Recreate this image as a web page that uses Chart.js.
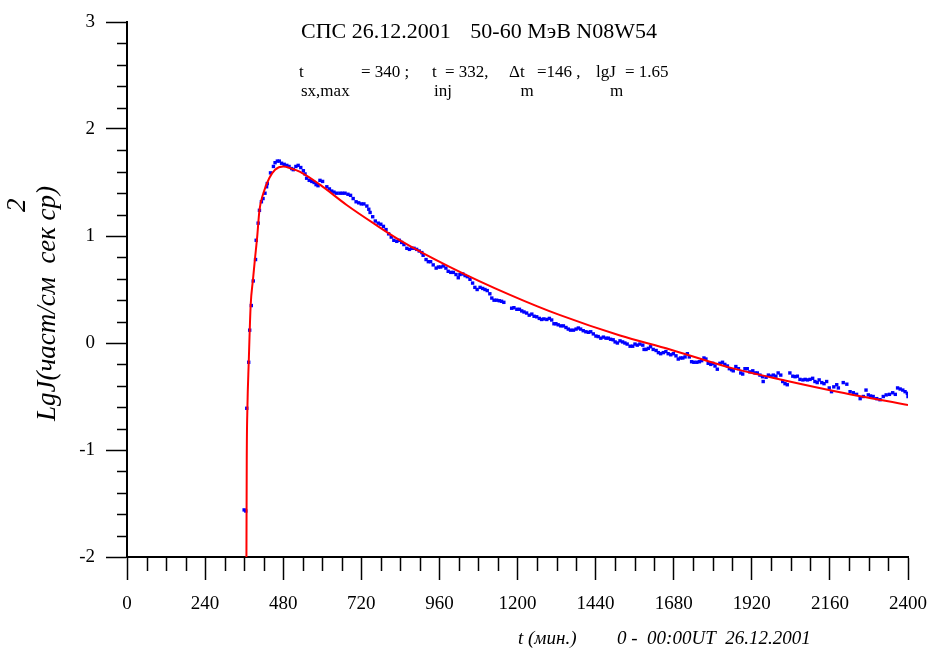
<!DOCTYPE html>
<html><head><meta charset="utf-8">
<script src="https://cdn.jsdelivr.net/npm/chart.js@4/dist/chart.umd.min.js"></script>
<style>html,body{margin:0;padding:0;background:#fff;}#wrap{width:929px;height:649px;position:relative;}</style>
</head><body><div id="wrap"><canvas id="c" width="929" height="649"></canvas></div>
<script>
// ---- data (time in minutes from 00:00UT 26.12.2001, lgJ) ----
const blueT = [360,365,368,374,377,382,388,395,397,403,407,413,418,424,429,431,441,450,455,462,468,475,483,491,498,506,511,519,526,534,542,547,552,560,568,575,581,587,593,601,614,622,629,636,644,654,662,670,679,687,695,704,712,720,728,737,743,747,755,763,772,780,788,796,804,812,820,829,837,844,851,860,868,875,882,890,898,906,910,919,926,933,941,950,957,964,972,980,987,995,1003,1011,1018,1023,1032,1039,1046,1054,1062,1069,1076,1085,1093,1100,1107,1115,1121,1128,1136,1144,1151,1158,1182,1189,1198,1206,1213,1220,1228,1236,1244,1251,1259,1267,1274,1281,1290,1298,1305,1312,1318,1325,1333,1341,1349,1356,1363,1372,1380,1387,1394,1402,1410,1418,1425,1433,1441,1448,1456,1464,1472,1479,1486,1494,1500,1507,1515,1523,1530,1537,1546,1554,1561,1568,1576,1585,1589,1595,1602,1609,1617,1626,1633,1640,1648,1656,1663,1671,1679,1687,1694,1701,1708,1715,1722,1728,1735,1742,1751,1759,1766,1773,1779,1786,1794,1800,1807,1814,1822,1830,1837,1845,1851,1858,1863,1871,1879,1886,1892,1899,1906,1914,1923,1930,1937,1945,1953,1955,1964,1971,1978,1986,1994,2001,2009,2015,2022,2029,2037,2046,2053,2060,2068,2077,2084,2091,2099,2107,2114,2121,2127,2135,2142,2150,2158,2165,2172,2181,2186,2201,2212,2222,2232,2242,2253,2263,2271,2278,2285,2293,2304,2314,2324,2333,2343,2353,2361,2368,2376,2384,2391,2398,2400];
const blueY = [-1.56,-1.57,-0.61,-0.18,0.12,0.35,0.58,0.78,0.96,1.12,1.24,1.32,1.35,1.40,1.46,1.49,1.59,1.65,1.685,1.70,1.70,1.68,1.67,1.66,1.65,1.63,1.62,1.65,1.66,1.64,1.61,1.58,1.54,1.52,1.51,1.50,1.48,1.47,1.52,1.51,1.46,1.44,1.42,1.41,1.40,1.40,1.40,1.40,1.39,1.38,1.35,1.32,1.31,1.30,1.30,1.28,1.25,1.22,1.18,1.14,1.12,1.11,1.09,1.06,1.02,0.99,0.96,0.95,0.96,0.94,0.92,0.885,0.875,0.885,0.885,0.875,0.86,0.845,0.82,0.78,0.76,0.76,0.73,0.70,0.71,0.71,0.72,0.70,0.67,0.66,0.66,0.64,0.61,0.64,0.645,0.63,0.62,0.595,0.56,0.52,0.50,0.52,0.51,0.50,0.49,0.46,0.42,0.40,0.40,0.395,0.39,0.38,0.325,0.33,0.315,0.315,0.30,0.29,0.28,0.26,0.27,0.25,0.245,0.23,0.22,0.225,0.22,0.23,0.215,0.18,0.18,0.17,0.16,0.16,0.145,0.13,0.12,0.12,0.13,0.14,0.13,0.115,0.105,0.10,0.105,0.085,0.065,0.06,0.045,0.055,0.045,0.045,0.035,0.03,0.01,0.00,0.02,0.01,0.00,-0.01,-0.03,-0.03,-0.01,-0.02,-0.01,-0.02,-0.06,-0.06,-0.05,-0.035,-0.06,-0.07,-0.09,-0.10,-0.09,-0.08,-0.10,-0.11,-0.10,-0.12,-0.15,-0.14,-0.14,-0.13,-0.10,-0.13,-0.175,-0.18,-0.18,-0.175,-0.165,-0.14,-0.15,-0.19,-0.20,-0.19,-0.215,-0.245,-0.19,-0.18,-0.20,-0.215,-0.24,-0.25,-0.26,-0.22,-0.24,-0.28,-0.29,-0.24,-0.24,-0.27,-0.26,-0.28,-0.28,-0.30,-0.315,-0.36,-0.32,-0.30,-0.31,-0.30,-0.31,-0.28,-0.30,-0.36,-0.38,-0.39,-0.28,-0.31,-0.315,-0.31,-0.34,-0.345,-0.34,-0.345,-0.34,-0.33,-0.36,-0.37,-0.345,-0.37,-0.38,-0.36,-0.42,-0.455,-0.41,-0.39,-0.42,-0.37,-0.385,-0.455,-0.465,-0.48,-0.52,-0.50,-0.44,-0.485,-0.495,-0.50,-0.52,-0.53,-0.50,-0.485,-0.48,-0.465,-0.48,-0.42,-0.43,-0.44,-0.455,-0.47,-0.50];
const redT = [367,368,370,374,380,387,393,400,407,419,437,455,480,506,532,593,675,757,839,993,1177,1331,1515,1669,1853,2022,2191,2400];
const redY = [-2.0,-1.09,-0.61,-0.19,0.35,0.59,0.78,0.99,1.24,1.40,1.54,1.62,1.65,1.63,1.60,1.48,1.29,1.12,0.96,0.71,0.45,0.26,0.07,-0.06,-0.23,-0.35,-0.46,-0.58];
const xTickLabels = [0,240,480,720,960,1200,1440,1680,1920,2160,2400];
const yTickLabels = [-2,-1,0,1,2,3];
const titleLeft = "СПС 26.12.2001";
const titleRight = "50-60 МэВ N08W54";
const yTitleMain = "LgJ(част/см  сек ср)";
const yTitleSup = "2";
const xTitleLeft = "t (мин.)";
const xTitleRight = "0 -  00:00UT  26.12.2001";
const paramParts = [
  {main:"t", sub:"sx,max"}, {main:"= 340 ;"},
  {main:"t", sub:"inj"}, {main:"= 332,"},
  {main:"Δt", sub:"m"}, {main:"=146 ,"},
  {main:"lgJ", sub:"m"}, {main:"= 1.65"}
];
const paramX = [299, 361, 432, 445, 509, 537, 596, 625];

const serif = "'Liberation Serif','Times New Roman',serif";

const decor = {
  id:'decor',
  afterDraw(chart){
    const ctx = chart.ctx, xs = chart.scales.x, ys = chart.scales.y;
    ctx.save();
    ctx.strokeStyle = '#000'; ctx.lineWidth = 1.5;
    // minor ticks
    const yb = ys.getPixelForValue(ys.min);
    for (let v = 60; v < 2400; v += 60) {
      if (v % 240 === 0) continue;
      const px = Math.round(xs.getPixelForValue(v)) + 0.5;
      ctx.beginPath(); ctx.moveTo(px, yb); ctx.lineTo(px, yb + 14); ctx.stroke();
    }
    const xl = xs.getPixelForValue(xs.min);
    for (let i = 1; i < 25; i++) {
      if (i % 5 === 0) continue;
      const v = -2 + i * 0.2;
      const py = Math.round(ys.getPixelForValue(v)) + 0.5;
      ctx.beginPath(); ctx.moveTo(xl - 10, py); ctx.lineTo(xl, py); ctx.stroke();
    }
    ctx.fillStyle = '#000';
    ctx.textBaseline = 'alphabetic';
    // title
    ctx.font = "22px " + serif;
    ctx.textAlign = 'left';
    ctx.fillText(titleLeft, 301, 38);
    ctx.textAlign = 'right';
    ctx.fillText(titleRight, 657, 38);
    ctx.textAlign = 'left';
    // parameters line
    ctx.font = "17px " + serif;
    paramParts.forEach((p, i) => {
      ctx.fillText(p.main, paramX[i], 77);
      if (p.sub) ctx.fillText(p.sub, paramX[i] + (p.main.length > 1 ? ctx.measureText(p.main).width * 0.6 : 0) + 2, 96);
    });
    // x title
    ctx.font = "italic 19px " + serif;
    ctx.fillText(xTitleLeft, 518, 644);
    ctx.fillText(xTitleRight, 617, 644);
    // y title
    ctx.font = "italic 27px " + serif;
    ctx.save();
    ctx.translate(55, 421);
    ctx.rotate(-Math.PI / 2);
    ctx.fillText(yTitleMain, 0, 0);
    ctx.restore();
    ctx.save();
    ctx.translate(25, 212);
    ctx.rotate(-Math.PI / 2);
    ctx.fillText(yTitleSup, 0, 0);
    ctx.restore();
    ctx.restore();
  }
};

new Chart(document.getElementById('c'), {
  type: 'scatter',
  data: {
    datasets: [
      { label:'fit', data: redT.map((t,i)=>({x:t,y:redY[i]})), showLine:true, borderColor:'#ff0000', borderWidth:2, pointRadius:0, cubicInterpolationMode:'monotone', fill:false },
      { label:'obs', data: blueT.map((t,i)=>({x:t,y:blueY[i]})), pointStyle:'rect', pointRadius:2.4, backgroundColor:'#0000ff', borderWidth:0 }
    ]
  },
  options: {
    responsive:false, animation:false, devicePixelRatio:1,
    layout:{ padding:{ left:0, right:21, top:22, bottom:0 } },
    plugins:{ legend:{display:false}, tooltip:{enabled:false}, title:{display:false} },
    scales:{
      x:{ type:'linear', min:0, max:2400,
        afterBuildTicks:(s)=>{ s.ticks = xTickLabels.map(v=>({value:v})); },
        afterFit:(s)=>{ s.height = 92; s.paddingLeft = 0; s.paddingRight = 0; },
        ticks:{ color:'#000', font:{family:serif, size:19}, padding:13, maxRotation:0, autoSkip:false, callback:(v)=>String(v) },
        grid:{ drawOnChartArea:false, drawTicks:true, tickLength:23, tickColor:'#000', tickWidth:1.5 },
        border:{ display:true, color:'#000', width:2 }
      },
      y:{ type:'linear', min:-2, max:3,
        afterBuildTicks:(s)=>{ s.ticks = yTickLabels.map(v=>({value:v})); },
        afterFit:(s)=>{ s.width = 127; s.paddingTop = 0; s.paddingBottom = 0; },
        ticks:{ color:'#000', font:{family:serif, size:19}, padding:11, callback:(v)=>String(v) },
        grid:{ drawOnChartArea:false, drawTicks:true, tickLength:21, tickColor:'#000', tickWidth:1.5 },
        border:{ display:true, color:'#000', width:2 }
      }
    }
  },
  plugins:[decor]
});
</script></body></html>
